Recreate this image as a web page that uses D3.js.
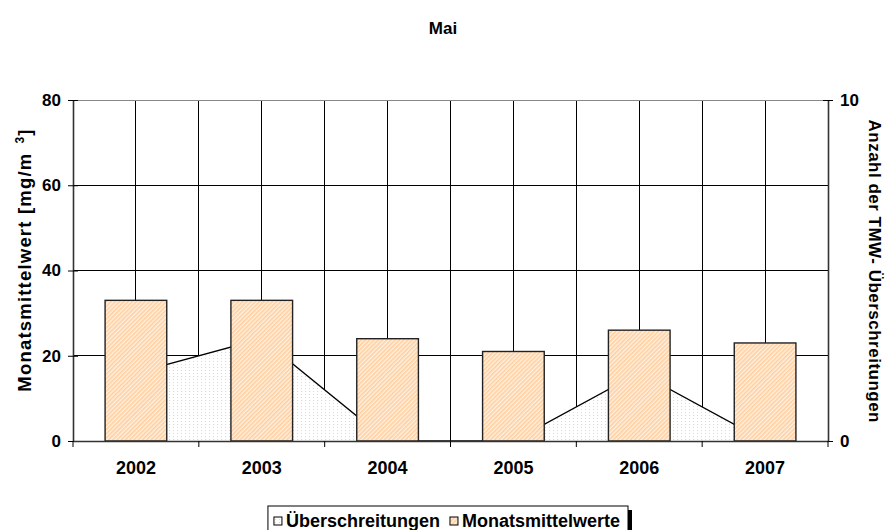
<!DOCTYPE html>
<html>
<head>
<meta charset="utf-8">
<script src="https://cdn.jsdelivr.net/npm/d3@7/dist/d3.min.js"></script>
<style>
  html, body { margin: 0; padding: 0; background: #fff; }
  svg { display: block; }
  text { font-family: "Liberation Sans", Arial, sans-serif; font-weight: bold; fill: #000; }
</style>
</head>
<body>
<svg id="chart" width="885" height="530"></svg>
<script>
// Monthly means (bars, left axis) and count of daily-mean exceedances (area, right axis)
const years = ["2002", "2003", "2004", "2005", "2006", "2007"];
const monatsmittel = [33, 33, 24, 21, 26, 23];
const ueberschreitungen = [2, 3, 0, 0, 2, 0];
const leftTicks = [0, 20, 40, 60, 80];
const rightTicks = [0, 10];

const svg = d3.select("#chart");
const plot = { left: 73, right: 828, top: 100, bottom: 441 };
const FONT = "Liberation Sans, Arial, sans-serif";

const defs = svg.append("defs");
// fine diagonal hatch for the bars
const hatch = defs.append("pattern").attr("id", "hatch")
  .attr("patternUnits", "userSpaceOnUse").attr("width", 3).attr("height", 3)
  .attr("patternTransform", "rotate(45)");
hatch.append("rect").attr("width", 3).attr("height", 3).attr("fill", "#fff1e2");
hatch.append("rect").attr("width", 1.6).attr("height", 3).attr("fill", "#ffcf9f");
// sparse dots for the area
const dots = defs.append("pattern").attr("id", "dots")
  .attr("patternUnits", "userSpaceOnUse").attr("width", 4).attr("height", 3);
dots.append("rect").attr("width", 4).attr("height", 3).attr("fill", "#fff");
dots.append("rect").attr("x", 1).attr("y", 1).attr("width", 1).attr("height", 1).attr("fill", "#ffd2a6");

const x = d3.scaleBand().domain(years).range([plot.left, plot.right])
  .paddingInner(0.51).paddingOuter(0.255);
const xEdge = d3.scaleLinear().domain([0, years.length]).range([plot.left, plot.right]);
const yL = d3.scaleLinear().domain([0, 80]).range([plot.bottom, plot.top]);
const yR = d3.scaleLinear().domain([0, 10]).range([plot.bottom, plot.top]);
const cx = d => x(d) + x.bandwidth() / 2;

// gridlines
const grid = svg.append("g").attr("stroke", "#000").attr("stroke-width", 1).attr("shape-rendering", "crispEdges");
grid.selectAll("line.h").data(leftTicks.filter(v => v > 0 && v < 80)).join("line")
  .attr("x1", plot.left).attr("x2", plot.right)
  .attr("y1", d => yL(d)).attr("y2", d => yL(d));
grid.selectAll("line.e").data(d3.range(1, years.length)).join("line")
  .attr("x1", d => xEdge(d)).attr("x2", d => xEdge(d))
  .attr("y1", plot.top).attr("y2", plot.bottom);
grid.selectAll("line.c").data(years).join("line")
  .attr("x1", cx).attr("x2", cx)
  .attr("y1", plot.top).attr("y2", plot.bottom);
svg.append("line").attr("x1", plot.left).attr("x2", plot.right)
  .attr("y1", plot.top).attr("y2", plot.top)
  .attr("stroke", "#888").attr("stroke-width", 1).attr("shape-rendering", "crispEdges");

// exceedance area
const areaData = years.map((y, i) => ({ y, v: ueberschreitungen[i] }));
svg.append("path").datum(areaData)
  .attr("fill", "url(#dots)")
  .attr("d", d3.area().x(d => cx(d.y)).y0(yR(0)).y1(d => yR(d.v)));
svg.append("path").datum(areaData)
  .attr("fill", "none").attr("stroke", "#000").attr("stroke-width", 1.3)
  .attr("d", d3.line().x(d => cx(d.y)).y(d => yR(d.v)));

// monthly mean bars
svg.append("g").selectAll("rect").data(years).join("rect")
  .attr("x", d => x(d)).attr("width", x.bandwidth())
  .attr("y", (d, i) => yL(monatsmittel[i]))
  .attr("height", (d, i) => yL(0) - yL(monatsmittel[i]))
  .attr("fill", "url(#hatch)").attr("stroke", "#222").attr("stroke-width", 1.4);

// axes
const axisL = svg.append("g").attr("transform", `translate(${plot.left},0)`)
  .call(d3.axisLeft(yL).tickValues(leftTicks).tickSize(5).tickSizeOuter(0));
const axisR = svg.append("g").attr("transform", `translate(${plot.right},0)`)
  .call(d3.axisRight(yR).tickValues(rightTicks).tickSize(5).tickSizeOuter(0));
const axisB = svg.append("g").attr("transform", `translate(0,${plot.bottom})`)
  .call(d3.axisBottom(x).tickSize(0).tickSizeOuter(0));
[axisL, axisR, axisB].forEach(g => {
  g.select(".domain").attr("stroke", "#333").attr("stroke-width", 1.6);
  g.selectAll(".tick line").attr("stroke", "#000");
  g.selectAll("text").attr("font-size", 17).attr("font-family", FONT).attr("font-weight", "bold");
});
// ticks crossing the value axes
axisL.selectAll(".tick line").attr("x1", 5);
axisR.selectAll(".tick line").attr("x1", -5);
axisL.selectAll(".tick text").attr("x", -12);
axisR.selectAll(".tick text").attr("x", 12);
axisB.selectAll(".tick text").attr("y", 20).attr("font-size", 18);
// category boundary ticks
svg.append("g").selectAll("line").data(d3.range(0, years.length + 1)).join("line")
  .attr("x1", d => xEdge(d)).attr("x2", d => xEdge(d))
  .attr("y1", plot.bottom).attr("y2", plot.bottom + 6)
  .attr("stroke", "#000");

// titles
svg.append("text").attr("x", 443).attr("y", 34).attr("text-anchor", "middle")
  .attr("font-size", 17).text("Mai");
const lt = svg.append("text").attr("transform", "translate(31,260) rotate(-90)")
  .attr("text-anchor", "middle").attr("font-size", 18.5).attr("letter-spacing", 1.2);
lt.append("tspan").text("Monatsmittelwert [mg/m");
lt.append("tspan").attr("dx", 9).attr("dy", -7).attr("font-size", 12).text("3");
lt.append("tspan").attr("dy", 7).text("]");
svg.append("text").attr("transform", "translate(869,271) rotate(90)")
  .attr("text-anchor", "middle").attr("font-size", 17)
  .attr("textLength", 303).attr("lengthAdjust", "spacing")
  .text("Anzahl der TMW- Überschreitungen");

// legend
const items = [
  { label: "Überschreitungen", fill: "url(#dots)" },
  { label: "Monatsmittelwerte", fill: "url(#hatch)" }
];
const leg = svg.append("g");
const legShadow = leg.append("rect").attr("fill", "#000");
const legBox = leg.append("rect").attr("fill", "#fff").attr("stroke", "#000").attr("stroke-width", 1);
let lx = 0;
items.forEach(it => {
  const g = leg.append("g");
  g.append("rect").attr("x", lx).attr("y", 11).attr("width", 8).attr("height", 8)
    .attr("fill", it.fill).attr("stroke", "#000").attr("stroke-width", 1);
  const t = g.append("text").attr("x", lx + 12).attr("y", 21).attr("font-size", 18).text(it.label);
  lx += 12 + t.node().getComputedTextLength() + 10;
});
const legW = lx - 10 + 14;
legBox.attr("x", -6).attr("y", 0).attr("width", legW).attr("height", 40);
legShadow.attr("x", -2).attr("y", 4).attr("width", legW).attr("height", 40);
leg.attr("transform", `translate(${632 - legW - 4 + 6},506)`);
</script>
</body>
</html>
